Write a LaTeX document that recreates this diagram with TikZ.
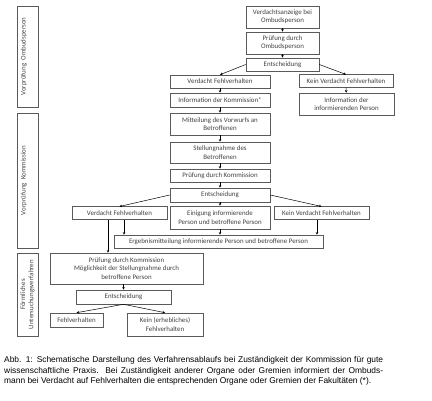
\documentclass[tikz,border=0pt]{standalone}
\usepackage{fontspec}
\setmainfont{Liberation Sans}
\newfontfamily\carl{Carlito}
\usetikzlibrary{arrows.meta,calc}
\definecolor{boxline}{HTML}{5A5A5A}
\definecolor{boxtext}{HTML}{404040}
\begin{document}
\begin{tikzpicture}[x=1pt,y=-1pt,
  box/.style={draw=boxline,line width=0.6pt,align=center,inner sep=0pt,
    text=boxtext,font=\carl\fontsize{6.9}{8.3}\selectfont},
  side/.style={box,rotate=90},
  arr/.style={draw=black,line width=0.5pt,-{Stealth[length=2.6pt,width=2.6pt]}}]
\useasboundingbox (0,0) rectangle (432,400);
% left phase labels
\node[side,minimum width=101pt,minimum height=21pt] (s1) at (27.5,56.5) {Vorprüfung~~Ombudsperson\\\mbox{}};
\node[side,minimum width=135pt,minimum height=21pt] (s2) at (27.5,180.5) {Vorprüfung~~Kommission\\\mbox{}};
\node[side,minimum width=83pt,minimum height=21pt] (s3) at (27.5,294.5) {Förmliches\\Untersuchungsverfahren};
% top column
\node[box,minimum width=73pt,minimum height=22pt] (va) at (282.5,17) {Verdachtsanzeige bei\\Ombudsperson};
\node[box,minimum width=73pt,minimum height=22pt] (po) at (282.5,43) {Prüfung durch\\Ombudsperson};
\node[box,minimum width=73pt,minimum height=13pt] (e1) at (282.5,64.5) {Entscheidung};
\node[box,minimum width=100pt,minimum height=13pt] (vf1) at (220,81.5) {Verdacht Fehlverhalten};
\node[box,minimum width=100pt,minimum height=14pt] (ik) at (220,100) {Information der Kommission*};
\node[box,minimum width=100pt,minimum height=22pt] (mv) at (220,124) {Mitteilung des Vorwurfs an\\Betroffenen};
\node[box,minimum width=100pt,minimum height=21pt] (sn) at (220,152.5) {Stellungnahme des\\Betroffenen};
\node[box,minimum width=100pt,minimum height=13pt] (pk) at (220,175.5) {Prüfung durch Kommission};
\node[box,minimum width=100pt,minimum height=14pt] (e2) at (220,195) {Entscheidung};
\node[box,minimum width=94pt,minimum height=12.5pt] (kv1) at (346,81) {Kein Verdacht Fehlverhalten};
\node[box,minimum width=95pt,minimum height=22pt] (ii) at (346.5,104) {Information der\\informierenden Person};
% second level
\node[box,minimum width=95pt,minimum height=12.5pt] (vf2) at (119.5,213) {Verdacht Fehlverhalten};
\node[box,minimum width=100pt,minimum height=23pt] (ei) at (220,217.5) {Einigung informierende\\Person und betroffene Person};
\node[box,minimum width=95pt,minimum height=12.5pt] (kv2) at (321.5,213) {Kein Verdacht Fehlverhalten};
\node[box,minimum width=209pt,minimum height=13pt] (er) at (218.5,241.5) {Ergebnismitteilung informierende Person und betroffene Person};
% third level
\node[box,minimum width=153pt,minimum height=31pt] (p3) at (126.5,268.5) {Prüfung durch Kommission\\Möglichkeit der Stellungnahme durch\\betroffene Person};
\node[box,minimum width=95pt,minimum height=14pt] (e3) at (123.5,297) {Entscheidung};
\node[box,minimum width=53pt,minimum height=14pt] (fv) at (76.5,320) {Fehlverhalten};
\node[box,minimum width=76pt,minimum height=23pt] (ke) at (165,324.5) {Kein (erhebliches)\\Fehlverhalten};
% helper coordinates
\coordinate (a1) at (124,0);
\coordinate (a2) at (108,0);
\coordinate (a3) at (317,0);
% connectors
\draw[arr] (va) -- (po);
\draw[arr] (po) -- (e1);
\draw[arr] (e1.west) -- (vf1.north);
\draw[arr] (e1.east) -- (kv1.north);
\draw[arr] (vf1) -- (ik);
\draw[arr] (ik) -- (mv);
\draw[arr] (mv) -- (sn);
\draw[arr] (sn) -- (pk);
\draw[arr] (pk) -- (e2);
\draw[arr] (kv1) -- (ii);
\draw[arr] (e2.west) -- (vf2.north);
\draw[arr] (e2) -- (ei);
\draw[arr] (e2.east) -- (kv2.north);
\draw[arr] (vf2.south -| a1) -- (er.north -| a1);
\draw[arr] (vf2.south -| a2) -- (p3.north -| a2);
\draw[arr] (ei.south) -- (er.north -| ei.south);
\draw[arr] (kv2.south -| a3) -- (er.north -| a3);
\draw[arr] (p3.south -| e3.north) -- (e3.north);
\draw[arr] (e3.south) -- (fv.north);
\draw[arr] (e3.south) -- (ke.north);
% caption
\node[anchor=north west,inner sep=0pt,text width=379pt,align=justify,
  font=\fontsize{8.4}{10.5}\selectfont] (cap) at (4,356.5)
  {Abb. 1: Schematische Darstellung des Verfahrensablaufs bei Zuständigkeit der Kommission für gute\linebreak
   wissenschaftliche Praxis. Bei Zuständigkeit anderer Organe oder Gremien informiert der Ombuds-\linebreak
   mann bei Verdacht auf Fehlverhalten die entsprechenden Organe oder Gremien der Fakultäten (*).\par};
\end{tikzpicture}
\end{document}
